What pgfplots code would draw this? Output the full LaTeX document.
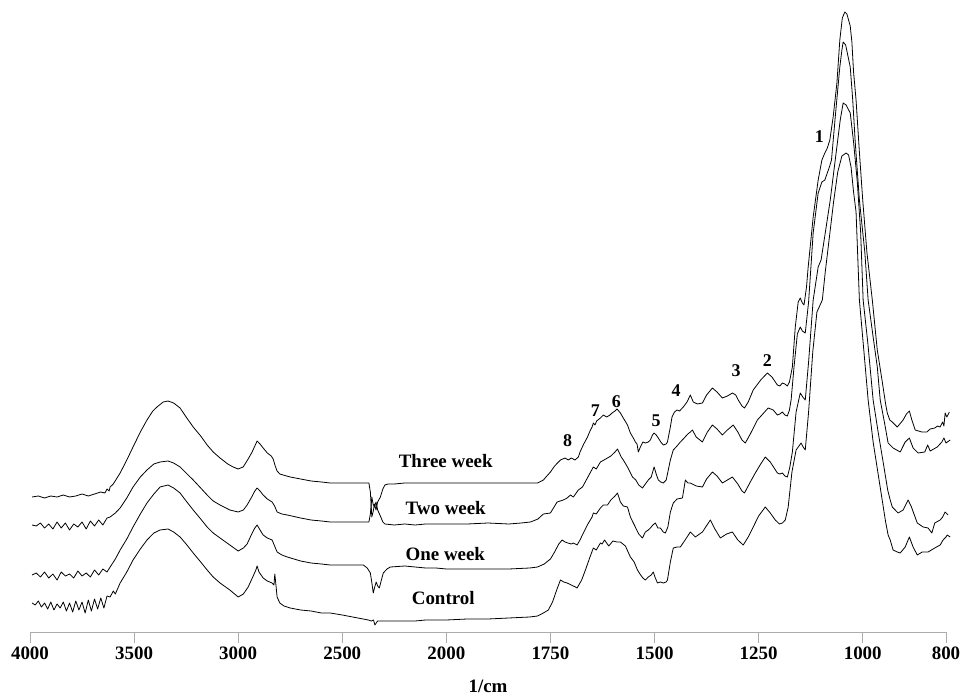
\documentclass[border=0pt]{standalone}
\usepackage{pgfplots}
\usepackage{pgfplotstable}
\usepackage{fontspec}
\setmainfont{Liberation Serif}
\pgfplotsset{compat=1.18}

\pgfplotstableread{
w h
3990 135
3960 136
3930 134
3900 136
3870 135
3840 137
3810 135
3780 136
3750 138
3720 136
3690 138
3660 140
3640 139
3630 143
3620 141
3615 145
3600 148
3567 159
3535 172
3505 185
3470 200
3438 212
3410 221
3390 225
3360 230
3337 231
3310 229
3279 224
3250 215
3216 205
3180 196
3149 187
3120 180
3087 174
3050 168
3024 165
3000 163
2976 165
2955 172
2933 180
2920 186
2909 191
2895 188
2880 184
2860 179
2841 176
2832 173
2822 166
2813 161
2800 158
2784 157
2750 155
2700 153
2650 151
2600 150
2558 149
2500 149
2450 149
2400 149
2372 149
2365 140
2358 115
2352 120
2345 128
2338 122
2330 130
2317 135
2305 143
2295 147
2280 148
2250 148
2200 149
2150 149
2100 149
2050 149
2000 149
1950 149
1900 149
1850 149
1800 149
1781 149
1767 152
1750 160
1740 166
1726 172
1715 174
1707 172
1700 174
1691 172
1683 175
1679 180
1670 188
1661 195
1655 201
1650 205
1647 209
1643 207
1639 211
1630 214
1623 217
1615 215
1607 217
1602 219
1595 221
1590 223
1582 219
1575 214
1565 207
1558 199
1551 194
1546 190
1542 188
1539 180
1534 185
1528 190
1522 189
1515 190
1510 192
1505 197
1501 199
1496 197
1491 194
1485 190
1479 187
1472 188
1469 190
1462 205
1458 215
1452 220
1446 222
1440 221
1431 225
1422 230
1414 237
1407 230
1397 228
1385 229
1375 237
1361 244
1350 240
1337 234
1325 236
1313 239
1305 237
1299 232
1290 226
1284 224
1275 230
1263 242
1245 252
1229 259
1218 255
1205 247
1199 246
1193 249
1187 248
1181 246
1176 250
1169 265
1162 305
1155 330
1150 334
1145 329
1141 327
1135 345
1131 365
1119 415
1107 452
1098 472
1091 479
1085 484
1079 492
1071 515
1062 549
1055 592
1049 614
1043 620
1038 618
1034 612
1030 606
1026 590
1022 560
1016 532
1008 480
1000 432
990 380
977 332
965 282
953 250
945 228
941 219
935 212
929 210
917 205
903 212
895 218
888 221
882 212
874 202
866 201
858 200
846 200
838 203
827 204
820 206
814 205
808 210
805 206
802 219
798 215
792 220
}\threeweek

\pgfplotstableread{
w h
3990 107
3970 106
3950 109
3930 104
3910 108
3890 103
3870 110
3850 104
3830 109
3810 102
3790 108
3770 105
3750 110
3730 103
3710 111
3690 106
3670 112
3650 107
3630 114
3615 115
3590 119
3567 124
3535 134
3505 145
3470 155
3438 162
3405 168
3375 170
3337 171
3310 169
3279 165
3250 159
3216 152
3180 144
3149 137
3120 131
3087 127
3040 122
3000 120
2975 122
2957 127
2935 135
2920 141
2909 144
2895 141
2880 137
2860 133
2837 130
2825 126
2813 120
2790 118
2764 117
2700 114
2650 112
2600 111
2558 110
2500 110
2450 110
2400 110
2372 110
2365 118
2358 135
2352 128
2345 125
2338 130
2330 122
2317 116
2305 110
2295 108
2250 107
2200 108
2150 107
2100 108
2050 108
2000 108
1950 108
1900 109
1850 108
1820 109
1798 110
1780 113
1767 118
1750 119
1734 130
1719 132
1710 134
1702 137
1695 135
1683 142
1673 145
1660 155
1647 165
1640 163
1630 170
1613 174
1605 176
1595 180
1589 183
1580 175
1575 172
1565 165
1553 155
1545 152
1538 147
1529 144
1522 148
1515 152
1508 155
1501 165
1496 158
1491 152
1485 150
1479 149
1472 152
1462 172
1455 182
1446 186
1438 190
1431 193
1420 198
1414 200
1409 202
1400 195
1385 190
1373 200
1361 207
1350 203
1337 197
1325 202
1311 207
1300 200
1290 192
1282 189
1270 198
1253 212
1240 218
1227 224
1215 222
1205 217
1199 218
1193 220
1187 217
1181 216
1176 222
1172 232
1165 265
1157 298
1150 305
1145 301
1138 299
1130 330
1119 399
1107 439
1098 450
1091 452
1080 465
1075 472
1066 515
1055 565
1050 582
1047 590
1041 587
1035 575
1030 565
1024 532
1018 490
1008 432
995 380
987 332
975 295
965 265
958 232
948 210
939 189
927 184
910 180
898 190
888 194
879 184
867 179
851 180
844 187
838 181
821 185
810 190
805 194
800 189
790 192
}\twoweek

\pgfplotstableread{
w h
3990 57
3970 59
3950 55
3930 60
3910 54
3890 58
3870 52
3850 60
3830 56
3810 58
3790 54
3770 61
3750 56
3730 59
3710 55
3690 62
3670 57
3650 63
3630 60
3615 65
3590 73
3567 82
3535 93
3505 105
3470 118
3438 129
3405 138
3375 145
3337 147
3310 144
3279 139
3250 131
3216 122
3180 113
3149 105
3120 99
3087 94
3040 87
3000 81
2975 84
2957 88
2935 98
2920 104
2909 107
2895 102
2880 97
2860 94
2837 92
2825 86
2813 80
2790 77
2764 75
2700 71
2650 69
2600 68
2558 67
2500 67
2450 67
2399 67
2380 64
2365 59
2357 48
2351 39
2344 45
2337 50
2330 46
2322 44
2312 52
2303 59
2285 63
2269 65
2200 66
2150 65
2100 64
2050 64
2000 63
1950 63
1900 63
1850 63
1800 64
1781 65
1765 68
1750 73
1740 80
1730 88
1722 92
1715 90
1708 89
1700 88
1695 89
1686 87
1679 92
1671 99
1660 108
1650 115
1647 119
1640 118
1630 124
1623 127
1613 127
1605 132
1595 136
1589 139
1582 130
1575 126
1565 125
1558 115
1551 109
1545 104
1538 98
1529 94
1522 100
1515 102
1510 104
1504 107
1498 109
1492 104
1486 104
1479 100
1474 99
1468 105
1462 120
1455 129
1446 133
1433 134
1426 152
1420 149
1414 149
1400 146
1385 145
1375 153
1361 160
1350 156
1337 149
1325 152
1313 155
1300 148
1290 141
1284 139
1270 150
1258 159
1245 168
1234 175
1222 170
1205 159
1199 158
1193 159
1187 156
1181 155
1175 165
1169 180
1160 220
1150 239
1144 235
1138 232
1130 270
1119 332
1107 365
1100 372
1090 399
1078 432
1066 472
1054 512
1047 529
1040 527
1030 519
1022 490
1013 450
1005 400
999 332
988 290
975 232
963 200
951 170
940 142
934 132
929 125
915 119
903 122
891 132
883 125
869 109
855 105
843 104
834 99
827 109
814 112
808 115
802 120
795 117
}\oneweek

\pgfplotstableread{
w h
3990 29
3975 27
3960 31
3945 25
3930 29
3915 23
3900 30
3885 22
3870 28
3855 24
3840 30
3825 21
3810 29
3795 20
3780 31
3765 22
3750 30
3735 19
3720 32
3705 21
3690 33
3675 23
3660 34
3645 24
3630 36
3615 35
3600 41
3590 38
3567 49
3535 60
3505 72
3470 83
3438 92
3405 99
3375 102
3337 103
3310 100
3279 95
3250 88
3216 79
3180 70
3149 62
3120 55
3087 49
3040 42
3000 35
2975 38
2952 45
2930 55
2915 62
2909 66
2900 60
2880 54
2860 51
2837 49
2828 47
2824 58
2820 50
2813 35
2800 29
2780 26
2750 24
2700 22
2650 21
2600 19
2558 19
2500 17
2450 15
2400 13
2375 12
2360 11
2350 12
2343 7
2337 9
2330 11
2300 11
2250 11
2200 11
2150 11
2100 12
2050 12
2000 12
1950 13
1900 13
1850 14
1800 15
1781 16
1767 19
1755 22
1745 30
1735 42
1726 52
1718 50
1710 49
1700 47
1690 45
1686 44
1675 52
1666 62
1655 75
1647 84
1640 82
1630 89
1626 88
1620 92
1610 86
1600 91
1590 90
1582 90
1570 86
1558 75
1549 70
1541 62
1535 58
1528 54
1522 52
1515 55
1508 57
1503 60
1499 55
1493 49
1486 50
1479 49
1472 50
1469 52
1462 70
1455 84
1446 85
1438 85
1425 93
1414 100
1402 95
1385 100
1366 112
1355 103
1342 94
1327 98
1313 100
1300 92
1287 87
1275 95
1263 105
1250 116
1234 125
1222 119
1210 112
1200 108
1193 109
1186 112
1179 125
1170 160
1160 182
1148 189
1143 185
1138 182
1130 220
1120 280
1110 320
1097 332
1090 360
1080 395
1070 430
1060 460
1050 476
1040 479
1034 477
1028 465
1022 440
1016 420
1008 332
997 280
987 232
975 190
960 150
945 110
939 97
934 92
927 82
917 80
910 79
898 85
888 95
879 85
869 77
857 80
843 80
827 84
814 87
807 92
800 95
797 97
790 95
}\control

\begin{document}
\begin{tikzpicture}
\useasboundingbox (-30bp,-65bp) rectangle (935bp,632bp);
\begin{axis}[
  at={(0,0)}, anchor=south west,
  scale only axis, width=916bp, height=632bp,
  x dir=reverse,
  x coord trafo/.code={\pgfmathparse{min(#1,2000)+max(#1-2000,0)/2}},
  xmin=800, xmax=4000, ymin=0, ymax=632,
  clip=false,
  axis x line*=bottom, axis y line=none,
  axis line style={draw=gray!65, line width=0.9pt},
  xtick={4000,3500,3000,2500,2000,1750,1500,1250,1000,800},
  xticklabels={4000,3500,3000,2500,2000,1750,1500,1250,1000,800},
  xtick align=outside,
  major tick length=11bp,
  every tick/.style={draw=gray!65, line width=0.9pt},
  ytick=\empty,
  /pgf/number format/assume math mode=true,
  xticklabel style={font=\fontsize{19}{22}\selectfont\bfseries},
  xlabel={1/cm},
  xlabel style={font=\fontsize{19}{22}\selectfont\bfseries, at={(axis description cs:0.5,0)}, anchor=center, yshift=-54bp},
  cycle list={{black, line width=0.8pt, line join=round, no markers}},
]
\addplot[black, line width=0.8pt, line join=round] table[x=w,y=h] {\threeweek};
\addplot[black, line width=0.8pt, line join=round] table[x=w,y=h] {\twoweek};
\addplot[black, line width=0.8pt, line join=round] table[x=w,y=h] {\oneweek};
\addplot[black, line width=0.8pt, line join=round] table[x=w,y=h] {\control};

\tikzset{lab/.style={font=\fontsize{19}{22}\selectfont\bfseries, inner sep=0pt}}
\tikzset{num/.style={font=\fontsize{18}{21}\selectfont\bfseries, inner sep=0pt}}
\node[lab] at (axis cs:2003,171) {Three week};
\node[lab] at (axis cs:2003,124) {Two week};
\node[lab] at (axis cs:2005,78) {One week};
\node[lab] at (axis cs:2015,34) {Control};
\node[num] at (axis cs:1709,191) {8};
\node[num] at (axis cs:1642,221) {7};
\node[num] at (axis cs:1592,230) {6};
\node[num] at (axis cs:1496,211) {5};
\node[num] at (axis cs:1448,241) {4};
\node[num] at (axis cs:1304,261) {3};
\node[num] at (axis cs:1229,271) {2};
\node[num] at (axis cs:1104,495) {1};
\end{axis}
\end{tikzpicture}
\end{document}
